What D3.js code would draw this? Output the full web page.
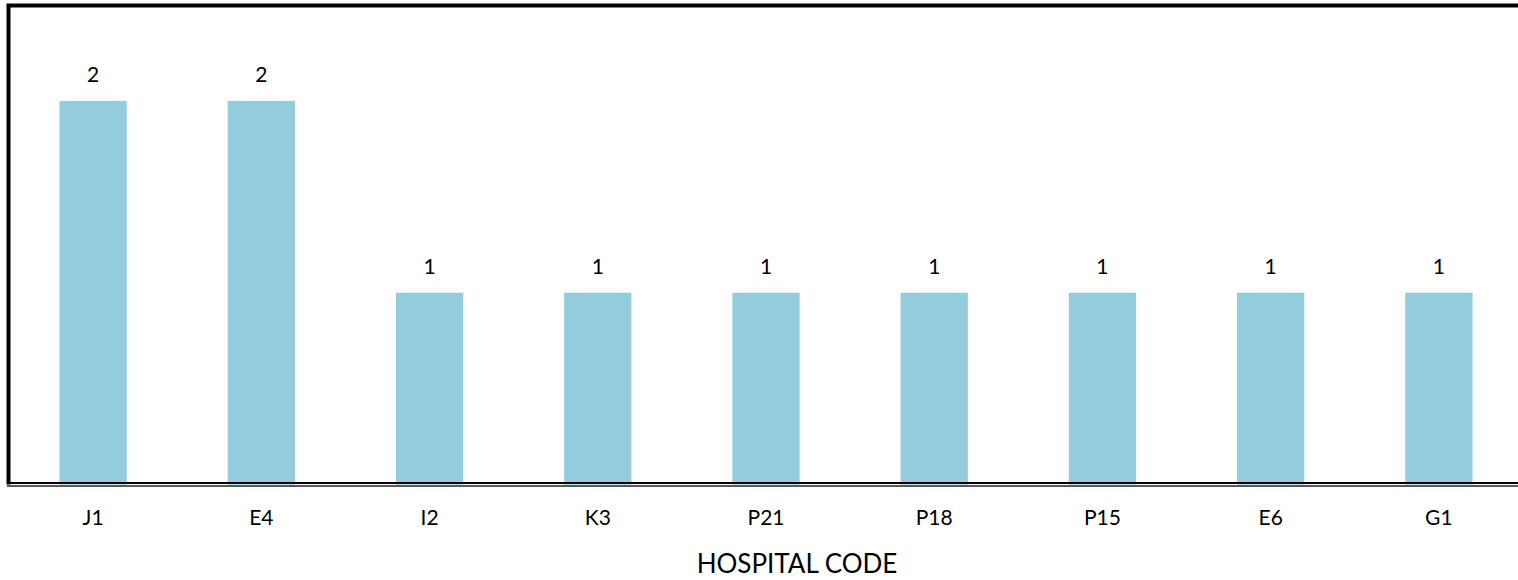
<!DOCTYPE html>
<html>
<head>
<meta charset="utf-8">
<script src="https://cdn.jsdelivr.net/npm/d3@7"></script>
<style>
  html, body { margin: 0; padding: 0; background: #fff; overflow: hidden; }
  svg { display: block; font-family: Lato, "Open Sans", sans-serif; }
</style>
</head>
<body>
<svg id="chart" width="1518" height="580"></svg>
<script>
// Hospital codes and their counts
const categories = ["J1", "E4", "I2", "K3", "P21", "P18", "P15", "E6", "G1"];
const counts = [2, 2, 1, 1, 1, 1, 1, 1, 1];
const axisTitle = "HOSPITAL CODE";

const svg = d3.select("#chart");

const plot = { left: 9, right: 1523, top: 5, bottom: 484.5 };

const x = d3.scaleBand()
  .domain(categories)
  .range([plot.left, plot.right])
  .paddingInner(0.6)
  .paddingOuter(0.3);

const y = d3.scaleLinear()
  .domain([0, 2.5])
  .range([plot.bottom, plot.top]);

// bars
svg.append("g")
  .selectAll("rect")
  .data(categories)
  .join("rect")
  .attr("x", d => x(d))
  .attr("width", x.bandwidth())
  .attr("y", (d, i) => y(counts[i]))
  .attr("height", (d, i) => y(0) - y(counts[i]))
  .attr("fill", "#93CDDD");

// value labels
svg.append("g")
  .selectAll("text")
  .data(categories)
  .join("text")
  .attr("x", d => x(d) + x.bandwidth() / 2)
  .attr("y", (d, i) => y(counts[i]) - 19)
  .attr("text-anchor", "middle")
  .attr("font-size", 21)
  .attr("fill", "#000")
  .text((d, i) => counts[i]);

// plot frame: left and top edges
svg.append("path")
  .attr("d", `M${plot.left - 0.5},${plot.bottom} V${plot.top + 0.5} H1530`)
  .attr("fill", "none")
  .attr("stroke", "#000")
  .attr("stroke-width", 4);

// category axis (double rule at the baseline)
const xAxis = svg.append("g")
  .attr("transform", `translate(0,${y(0) - 2})`)
  .call(d3.axisBottom(x).tickSize(0).tickPadding(28));
xAxis.select(".domain")
  .attr("d", `M${plot.left - 2},0.5 H1530`)
  .attr("stroke", "#000")
  .attr("stroke-width", 2);
xAxis.selectAll("text")
  .attr("font-size", 21)
  .attr("font-family", "Lato, 'Open Sans', sans-serif")
  .attr("fill", "#000");

svg.append("line")
  .attr("x1", plot.left - 2)
  .attr("x2", 1530)
  .attr("y1", y(0) + 1.5)
  .attr("y2", y(0) + 1.5)
  .attr("stroke", "#222")
  .attr("stroke-width", 1.5);

// axis title
svg.append("text")
  .attr("x", 797)
  .attr("y", 573)
  .attr("text-anchor", "middle")
  .attr("font-size", 26)
  .attr("fill", "#000")
  .text(axisTitle);
</script>
</body>
</html>
